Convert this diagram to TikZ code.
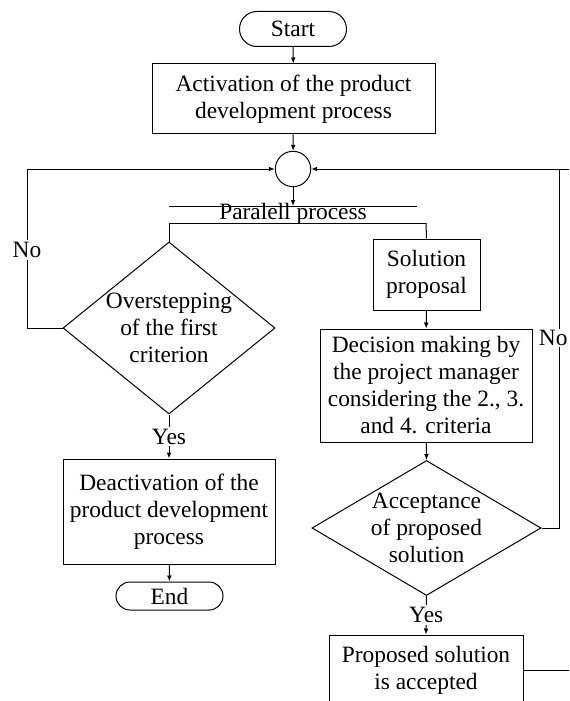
\documentclass[tikz,border=0pt]{standalone}
\usepackage{fontspec}
\setmainfont{Liberation Serif}
\usetikzlibrary{shapes.geometric}
\usetikzlibrary{arrows.meta}
\tikzset{
	procbox/.style={draw, rectangle, align=center, inner sep=0pt},
	termbox/.style={draw, rectangle, inner sep=0pt, minimum width=53.5pt},
	decision/.style={draw, diamond, inner sep=0pt},
	joint/.style={draw, circle, inner sep=0pt, minimum size=17.7pt},
	lbl/.style={fill=white, inner sep=1pt},
	flow/.style={-{Latex[length=3pt,width=2.4pt]}}
}
\begin{document}
\begin{tikzpicture}[x=0.5pt, y=-0.5pt, line width=0.5pt, font=\fontsize{11.7pt}{13.5pt}\selectfont]
		\useasboundingbox (0,0) rectangle (569,701);
		\clip (0,0) rectangle (569,701);
		\node [termbox, minimum height=17.5pt, rounded corners=8.75pt] (start) at (293,29) {Start};
		\node [procbox, minimum width=141.5pt, minimum height=35pt] (act) at (293.5,99) {Activation of the product\\development process};
		\node [joint] (merge) at (293,169) {};
		\node [inner sep=0pt] (par) at (293,214) {Paralell process};
		\coordinate (parA) at (169,206);
		\coordinate (parB) at (417,206);
		\coordinate (parC) at (169,223);
		\coordinate (parD) at (426,223);
		\node [decision, minimum width=106pt, minimum height=86pt, label={[align=center]center:Overstepping\\of the first\\criterion}] (over) at (169,328) {};
		\node [procbox, minimum width=106pt, minimum height=52.5pt] (deact) at (169,511.5) {Deactivation of the\\product development\\process};
		\node [termbox, minimum height=14pt, rounded corners=7pt] (end) at (169.5,596) {End};
		\node [procbox, minimum width=53.5pt, minimum height=35.5pt] (sol) at (426.5,274.5) {Solution\\proposal};
		\node [procbox, minimum width=106pt, minimum height=56.5pt] (dec) at (426,385.5) {Decision making by\\the project manager\\considering the 2., 3.\\and 4. criteria};
		\node [decision, minimum width=114.5pt, minimum height=67.5pt, label={[align=center]center:Acceptance\\of proposed\\solution}] (acc) at (426.5,528) {};
		\node [procbox, minimum width=97pt, minimum height=35pt] (prop) at (426,670) {Proposed solution\\is accepted};
		\coordinate (loopL) at (27,169);
		\coordinate (loopR) at (559,169);
		\coordinate (rimTop) at (569,169);
		\coordinate (rimBot) at (569,670);
		\draw [flow] (start) -- (act);
		\draw [flow] (act) -- (merge);
		\draw [flow] (merge.south) -- (merge.south |- parA);
		\draw (parA) -- (parB);
		\draw (parC) -- (parD);
		\draw (parC) -- (over.north);
		\draw (parD) -- (sol.north);
		\draw [flow] (over.west) -| (loopL) -- (merge.west);
		\node [lbl] (noL) at (27,250) {No};
		\draw [flow] (over.south) -- node [lbl] (yesL) {Yes} (deact.north);
		\draw [flow] (deact) -- (end);
		\draw [flow] (sol) -- (dec);
		\draw [flow] (dec) -- (acc.north);
		\draw (acc.east) -| (loopR);
		\draw [flow] (rimTop) -- (merge.east);
		\node [lbl, anchor=east, inner sep=0.5pt] (noR) at (569,338) {No};
		\draw [flow] (acc.south) -- node [lbl] (yesR) {Yes} (prop.north);
		\draw (prop.east) -- (rimBot);
	\end{tikzpicture}
\end{document}
